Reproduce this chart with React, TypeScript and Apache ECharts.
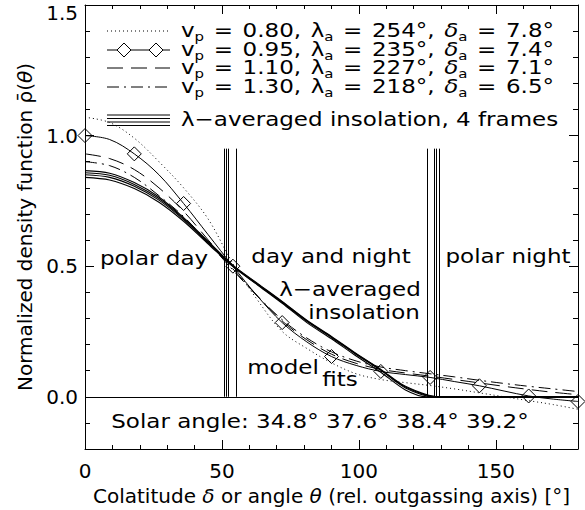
import { useEffect, useRef } from "react";
import * as echarts from "echarts";

const FONT = "'DejaVu Sans', sans-serif";

// ---- data ----
const thetaGrid = [0, 9, 18, 27, 36, 45, 54, 63, 72, 81, 90, 99, 108, 117, 126, 135, 144, 153, 162, 171, 180];
const fitVp080 = [1.07, 1.05, 0.99, 0.9, 0.8, 0.68, 0.51, 0.37, 0.25, 0.185, 0.13, 0.088, 0.066, 0.054, 0.043, 0.03, 0.015, 0.0, -0.015, -0.03, -0.048];
const fitVp095 = [1.0, 0.985, 0.93, 0.85, 0.74, 0.62, 0.5, 0.385, 0.284, 0.21, 0.154, 0.12, 0.097, 0.085, 0.074, 0.058, 0.042, 0.022, 0.003, -0.009, -0.018];
const fitVp110 = [0.93, 0.912, 0.87, 0.8, 0.71, 0.6, 0.49, 0.385, 0.29, 0.218, 0.163, 0.128, 0.105, 0.091, 0.079, 0.066, 0.053, 0.04, 0.028, 0.017, 0.008];
const fitVp130 = [0.9, 0.885, 0.84, 0.77, 0.69, 0.59, 0.485, 0.385, 0.295, 0.225, 0.172, 0.137, 0.114, 0.1, 0.088, 0.076, 0.063, 0.051, 0.04, 0.03, 0.02];

const solarAngles = [34.8, 37.6, 38.4, 39.2];
const insolTheta = [0, 9, 18, 27, 36, 45, 54, 63, 72, 81, 90, 99, 108, 117];
const insolFrame1 = [0.84, 0.83, 0.797, 0.745, 0.672, 0.585, 0.498, 0.428, 0.358, 0.284, 0.222, 0.156, 0.094, 0.026];
const insolFrame2 = [0.85, 0.84, 0.806, 0.753, 0.678, 0.589, 0.5, 0.43, 0.361, 0.289, 0.227, 0.162, 0.101, 0.034];
const insolFrame3 = [0.858, 0.848, 0.813, 0.759, 0.682, 0.592, 0.502, 0.432, 0.363, 0.291, 0.229, 0.164, 0.103, 0.037];
const insolFrame4 = [0.866, 0.856, 0.82, 0.765, 0.686, 0.595, 0.504, 0.434, 0.365, 0.293, 0.231, 0.166, 0.105, 0.04];
const insolFrames = [insolFrame1, insolFrame2, insolFrame3, insolFrame4];

const legendVp = [0.8, 0.95, 1.1, 1.3];
const legendLambda = [254, 235, 227, 218];
const legendDelta = [7.8, 7.4, 7.1, 6.5];

const xMajorTicks = [0, 50, 100, 150];
const yMajorTicks = [0, 0.5, 1.0, 1.5];
const vLineTop = 0.95;

// ---- helpers ----
const BLACK = "#000";
const axisLineStyle = { color: BLACK, width: 1 };
const TEXT_STRETCH = 1.15;

function xAxisPair(position: "bottom" | "top", withLabels: boolean) {
  const minor: any = {
    type: "value",
    position,
    min: 0,
    max: 180,
    interval: 10,
    axisLine: { show: true, onZero: false, lineStyle: axisLineStyle },
    axisTick: { show: true, inside: true, length: 4, lineStyle: axisLineStyle },
    splitLine: { show: false },
    axisLabel: withLabels
      ? {
          show: true,
          margin: 12,
          color: BLACK,
          fontSize: 20,
          fontFamily: FONT,
          formatter: (v: number) => (v % 50 === 0 && v <= 150 ? String(v) : ""),
        }
      : { show: false },
  };
  if (withLabels) {
    minor.name = "Colatitude {i|δ} or angle {i|θ} (rel. outgassing axis) [°]";
    minor.nameLocation = "middle";
    minor.nameGap = 33;
    minor.nameTextStyle = {
      color: BLACK,
      fontSize: 20,
      fontFamily: FONT,
      rich: { i: { fontStyle: "italic", fontSize: 20, fontFamily: FONT, color: BLACK } },
    };
  }
  const major = {
    type: "value",
    position,
    min: 0,
    max: 180,
    axisLine: { show: false, onZero: false },
    axisTick: { show: true, inside: true, length: 9, customValues: xMajorTicks, lineStyle: axisLineStyle },
    axisLabel: { show: false },
    splitLine: { show: false },
  };
  return [minor, major];
}

function yAxisPair(position: "left" | "right", withLabels: boolean) {
  const minor: any = {
    type: "value",
    position,
    min: -0.2,
    max: 1.5,
    interval: 0.1,
    axisLine: { show: true, onZero: false, lineStyle: axisLineStyle },
    axisTick: { show: true, inside: true, length: 5, lineStyle: axisLineStyle },
    splitLine: { show: false },
    axisLabel: withLabels
      ? {
          show: true,
          margin: 7,
          color: BLACK,
          fontSize: 20,
          fontFamily: FONT,
          formatter: (v: number) => {
            const r = Math.round(v * 10) / 10;
            if (r < 0 || Math.abs(r * 2 - Math.round(r * 2)) > 1e-6) return "";
            if (Math.abs(r - 1.5) < 1e-6) return "{t|1.5}";
            return r.toFixed(1);
          },
          rich: { t: { padding: [16, 0, 0, 0], fontSize: 20, fontFamily: FONT, color: BLACK } },
        }
      : { show: false },
  };
  if (withLabels) {
    minor.name = "Normalized density function ρ̄({i|θ})";
    minor.nameLocation = "middle";
    minor.nameGap = 42;
    minor.nameTextStyle = {
      color: BLACK,
      fontSize: 20,
      fontFamily: FONT,
      rich: { i: { fontStyle: "italic", fontSize: 20, fontFamily: FONT, color: BLACK } },
    };
  }
  const major = {
    type: "value",
    position,
    min: -0.2,
    max: 1.5,
    axisLine: { show: false, onZero: false },
    axisTick: { show: true, inside: true, length: 9, customValues: yMajorTicks, lineStyle: axisLineStyle },
    axisLabel: { show: false },
    splitLine: { show: false },
  };
  return [minor, major];
}

function lineSeries(name: string, data: any[], type: any, extra: any = {}) {
  return {
    type: "line",
    name,
    data,
    xAxisIndex: 0,
    yAxisIndex: 0,
    smooth: 0.35,
    showSymbol: false,
    symbol: "none",
    silent: true,
    lineStyle: { color: BLACK, width: 1, type },
    itemStyle: { color: BLACK },
    emphasis: { disabled: true },
    z: 3,
    ...extra,
  };
}

function buildOption() {
  const textBase = { fill: BLACK, fontSize: 20, fontFamily: FONT };
  const richSub = {
    s: { fontSize: 13, fontFamily: FONT, fill: BLACK, verticalAlign: "top", padding: [10, 0, 0, 0], lineHeight: 10 },
    i: { fontSize: 20, fontFamily: FONT, fill: BLACK, fontStyle: "italic" },
  };
  const sp = "\u00A0\u200A";

  const legendRowsY = [31, 50, 68, 87];
  const sampleX1 = 107;
  const sampleX2 = 170;
  const textX = 181;

  const graphic: any[] = [];
  const sampleDash: any[] = [[1, 3], null, [16, 8], [12, 5, 2, 5]];
  legendRowsY.forEach((y, i) => {
    graphic.push({
      type: "line",
      silent: true,
      shape: { x1: sampleX1, y1: y, x2: sampleX2, y2: y },
      style: { stroke: BLACK, lineWidth: 1, lineDash: sampleDash[i] || null },
    });
    if (i === 1) {
      [124, 156].forEach((cx) => {
        graphic.push({
          type: "polygon",
          silent: true,
          shape: { points: [[cx - 7, y], [cx, y - 7], [cx + 7, y], [cx, y + 7]] },
          style: { fill: "#fff", stroke: BLACK, lineWidth: 1 },
        });
      });
    }
    const txt =
      `v{s|p}${sp}=${sp}${legendVp[i].toFixed(2)},${sp}λ{s|a}${sp}=${sp}${legendLambda[i]}°,` +
      `${sp}{i|δ}{s|a}${sp}=${sp}${legendDelta[i].toFixed(1)}°`;
    graphic.push({
      type: "text",
      silent: true,
      x: textX,
      y: y - 1,
      scaleX: TEXT_STRETCH,
      style: {
        ...textBase,
        text: txt,
        lineHeight: 20,
        rich: richSub,
        align: "left",
        verticalAlign: "middle",
        textAlign: "left",
        textVerticalAlign: "middle",
      },
    });
  });
  // lambda-averaged legend: four parallel lines
  [115, 118.5, 122, 125.5].forEach((y) => {
    graphic.push({
      type: "line",
      silent: true,
      shape: { x1: sampleX1, y1: y, x2: sampleX2, y2: y },
      style: { stroke: BLACK, lineWidth: 1 },
    });
  });
  graphic.push({
    type: "text",
    silent: true,
    x: textX,
    y: 119,
    scaleX: TEXT_STRETCH,
    style: {
      ...textBase,
      text: "λ−averaged insolation, 4 frames",
      align: "left",
      verticalAlign: "middle",
      textAlign: "left",
      textVerticalAlign: "middle",
    },
  });

  const annotations: [string, number, number][] = [
    ["polar day", 154, 258],
    ["day and night", 331, 256],
    ["polar night", 508, 256],
    ["λ−averaged", 350, 289],
    ["insolation", 364, 312],
    ["model", 283, 367],
    ["fits", 340, 379],
    [`Solar angle: ${solarAngles.map((s) => s.toFixed(1) + "°").join(" ")}`, 320, 421],
  ];
  annotations.forEach(([t, x, y]) => {
    graphic.push({
      type: "text",
      silent: true,
      x,
      y,
      scaleX: TEXT_STRETCH,
      style: {
        ...textBase,
        text: t,
        align: "center",
        verticalAlign: "middle",
        textAlign: "center",
        textVerticalAlign: "middle",
      },
    });
  });

  const boundaries: number[] = [];
  solarAngles.forEach((s) => {
    boundaries.push(90 - s);
    boundaries.push(90 + s);
  });

  const series: any[] = [];
  series.push(lineSeries("vp080", thetaGrid.map((t, i) => [t, fitVp080[i]]), [1, 3]));
  series.push(
    lineSeries(
      "vp095",
      thetaGrid.map((t, i) => ({
        value: [t, fitVp095[i]],
        symbol: i % 2 === 0 ? "diamond" : "none",
      })),
      "solid",
      {
        showSymbol: true,
        symbol: "diamond",
        symbolSize: 14,
        itemStyle: { color: "rgba(0,0,0,0)", borderColor: BLACK, borderWidth: 1 },
        z: 4,
      }
    )
  );
  series.push(lineSeries("vp110", thetaGrid.map((t, i) => [t, fitVp110[i]]), [16, 8]));
  series.push(lineSeries("vp130", thetaGrid.map((t, i) => [t, fitVp130[i]]), [12, 5, 2, 5]));
  insolFrames.forEach((frame, k) => {
    const data = insolTheta.map((t, i) => [t, frame[i]]);
    data.push([90 + solarAngles[k], 0]);
    data.push([180, 0]);
    const s: any = lineSeries("insol" + k, data, "solid", { smooth: 0.3, lineStyle: { color: BLACK, width: 1.1, type: "solid" } });
    if (k === 0) {
      s.markLine = {
        silent: true,
        symbol: ["none", "none"],
        label: { show: false },
        emphasis: { disabled: true },
        lineStyle: { color: BLACK, width: 1, type: "solid" },
        data: [
          { yAxis: 0 },
          ...boundaries.map((b) => [{ coord: [b, 0] }, { coord: [b, vLineTop] }]),
        ],
      };
    }
    series.push(s);
  });

  return {
    animation: false,
    backgroundColor: "#fff",
    grid: { left: 85, right: 7, top: 5, bottom: 61, containLabel: false, outerBoundsMode: "none" },
    xAxis: [...xAxisPair("bottom", true), ...xAxisPair("top", false)],
    yAxis: [...yAxisPair("left", true), ...yAxisPair("right", false)],
    series,
    graphic,
  };
}

export default function App() {
  const ref = useRef<HTMLDivElement>(null);
  useEffect(() => {
    const chart = echarts.init(ref.current!, undefined, { renderer: "svg" });
    chart.setOption(buildOption() as any);
    return () => chart.dispose();
  }, []);
  return (
    <div
      ref={ref}
      style={{ position: "fixed", left: 0, top: 0, width: 585, height: 510, background: "#fff" }}
    />
  );
}
